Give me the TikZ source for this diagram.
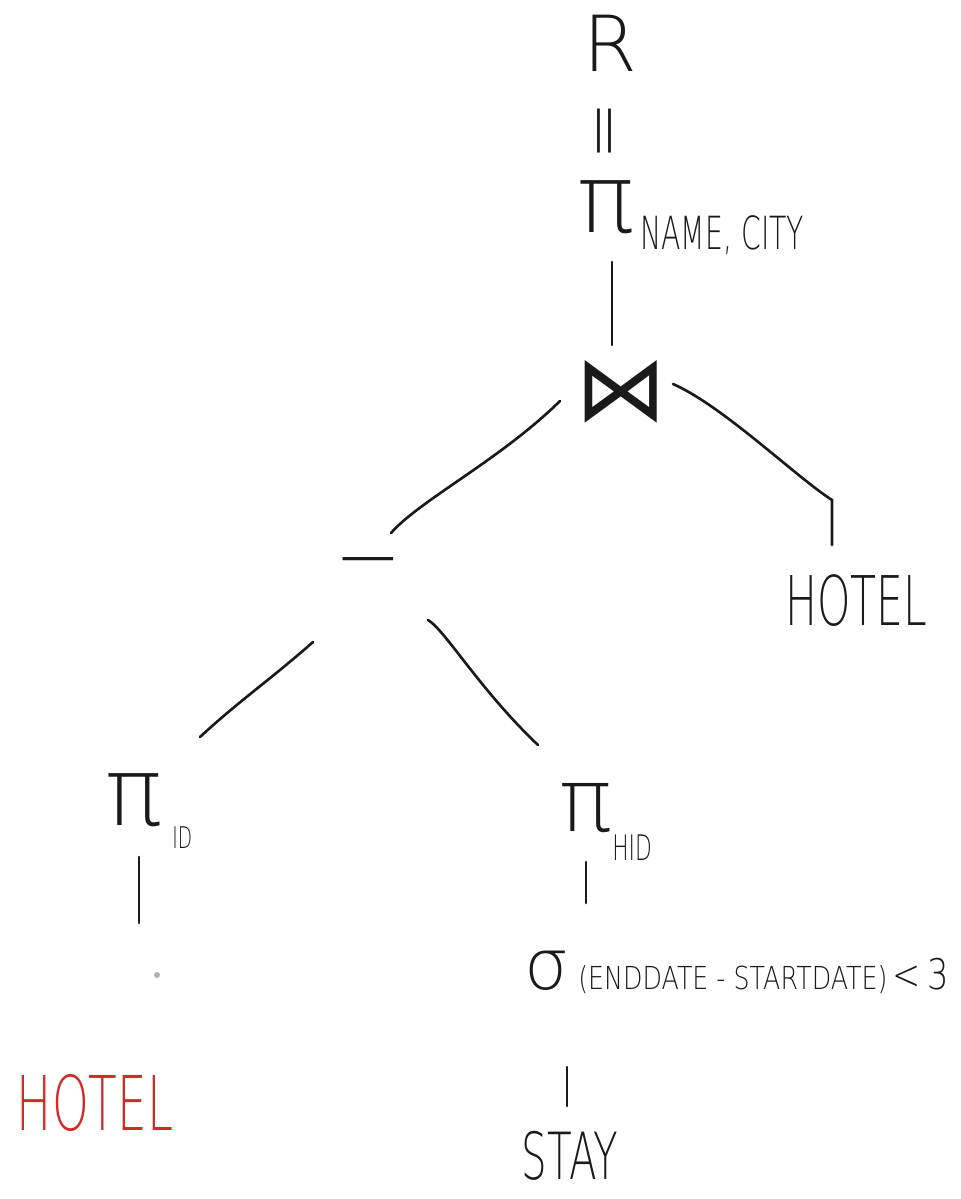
\documentclass[tikz,border=0pt]{standalone}
\usepackage{fontspec}
\setmainfont{DejaVu Sans}
\newfontfamily\hand[FakeStretch=0.62]{DejaVu Sans ExtraLight}
\newfontfamily\handwide[FakeStretch=0.8]{DejaVu Sans ExtraLight}
\newfontfamily\handsym{DejaVu Sans ExtraLight}
\newfontfamily\opsym{DejaVu Sans}
\usetikzlibrary{calc}

\definecolor{ink}{HTML}{1A1A1A}
\definecolor{redink}{HTML}{D22A26}

\begin{document}
\begin{tikzpicture}[
    x=0.02cm, y=-0.02cm,
    % --- STYLES ---
    lbl/.style={inner sep=0pt, text=ink},
    sym/.style={lbl, font=\handsym\fontsize{#1}{#1}\selectfont},
    word/.style={lbl, font=\hand\fontsize{#1}{#1}\selectfont},
    edge/.style={draw=ink, line width=1.5pt, line cap=round}
]
\useasboundingbox (0,0) rectangle (960,1199);

% ===== 1. RESULT =====
\node[sym=44] (res) at (610,43) {R};
\node[sym=40, rotate=90] (eq) at (612,131) {=};
\node[sym=54] (p1) at (606,207) {π};
\node[word=26, anchor=base west] (p1sub) at (640,250) {NAME, CITY};

% ===== 2. JOIN =====
\node[lbl, font=\opsym\fontsize{52}{52}\selectfont] (join) at (621,392) {⋈};
\node[sym=46] (diff) at (368,571) {−};
\node[word=39] (hotelR) at (856,601) {HOTEL};

% ===== 3. LEFT BRANCH =====
\node[sym=54] (pid) at (134,800) {π};
\node[word=17, anchor=base west] (pidsub) at (172,848) {ID};
\node[word=43, text=redink] (hotelL) at (95,1103) {HOTEL};
\fill[gray!60] (157,975) circle (3);

% ===== 4. RIGHT BRANCH =====
\node[sym=50] (phid) at (586,808) {π};
\node[word=20, anchor=base west] (phidsub) at (612,860) {HID};
\node[sym=40] (sel) at (547,971) {σ};
\node[lbl, font=\handwide\fontsize{18}{18}\selectfont, anchor=base west] (selsub)
    at (578,989) {(ENDDATE - STARTDATE)\,{\fontsize{24}{24}\selectfont<\,3}};
\node[word=37] (stay) at (570,1156) {STAY};

% ===== 5. EDGES =====
\draw[edge] ($(p1)+(6,55)$) -- ($(join)+(-9,-47)$);

% join -> difference / hotel
\draw[edge] ($(join)+(-61,9)$) .. controls ($(join)+(-121,68)$)
    and ($(diff)+(52,-71)$) .. ($(diff)+(23,-38)$);
\draw[edge] ($(join)+(52,-8)$) .. controls ($(join)+(102,14)$)
    and ($(hotelR)+(-60,-124)$) .. ($(hotelR)+(-24,-101)$)
    -- ($(hotelR)+(-24,-56)$);

% difference -> projections
\draw[edge] ($(diff)+(-55,71)$) .. controls ($(pid)+(136,-120)$)
    and ($(pid)+(106,-100)$) .. ($(pid)+(66,-63)$);
\draw[edge] ($(diff)+(60,49)$) .. controls ($(diff)+(77,59)$)
    and ($(phid)+(-106,-118)$) .. ($(phid)+(-48,-63)$);

% down to the relations
\draw[edge] ($(pid)+(5,57)$) -- ($(hotelL)+(44,-180)$);
\draw[edge] ($(phid)+(0,54)$) -- ($(sel)+(39,-68)$);
\draw[edge] ($(sel)+(20,96)$) -- ($(stay)+(-3,-50)$);

\end{tikzpicture}
\end{document}
